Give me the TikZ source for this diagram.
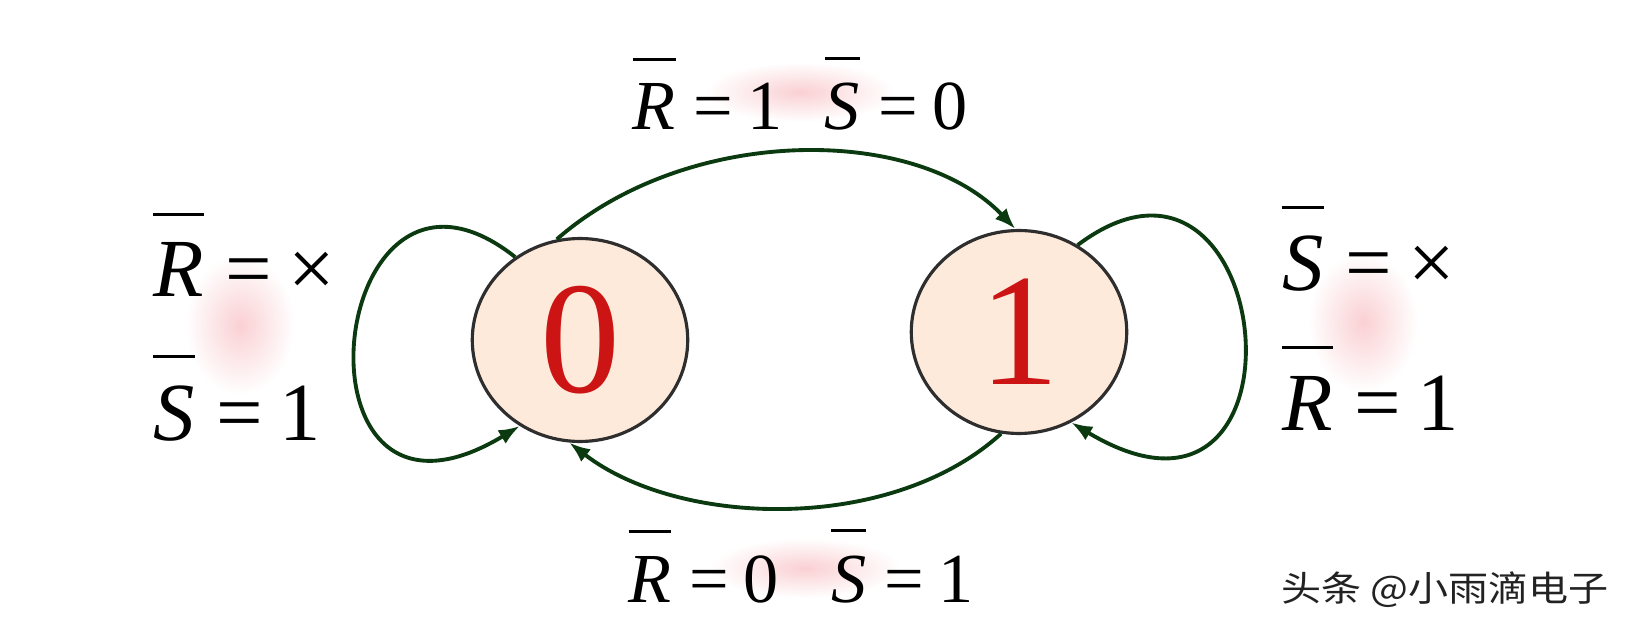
\documentclass[tikz,border=0pt]{standalone}
\usepackage{fontspec}
\setmainfont{Liberation Serif}
\newfontfamily\cjk{Noto Sans CJK SC}
\usepackage{xcolor}
\usepackage{graphicx}
\usetikzlibrary{arrows.meta, shapes.geometric}
\definecolor{state-fill}{HTML}{FDEADA}
\definecolor{state-line}{HTML}{2E2E2E}
\definecolor{digit-red}{HTML}{CC1414}
\definecolor{arc-green}{HTML}{0C3A10}
\definecolor{blush}{HTML}{FAD0D3}
\definecolor{mark-gray}{HTML}{222222}

% negated input: letter with a bar well above it
\newcommand{\nb}[1]{\leavevmode\vbox{\hrule height 1.8pt\kern0.33em\hbox{\textit{#1}}}}
\newcommand{\eqs}{\hspace{0.26em}=\hspace{0.2em}}

\begin{document}
\begin{tikzpicture}[x=0.02cm, y=-0.02cm,
      every node/.style={inner sep=0pt},
      state/.style={ellipse, draw=state-line, line width=1.8pt, fill=state-fill,
        minimum width=4.31cm, minimum height=4.06cm,
        text=digit-red, font=\fontsize{91}{91}\selectfont},
      trans/.style={draw=arc-green, line width=2.2pt,
        -{Latex[length=12pt, width=9pt]}},
      cond/.style={font=\fontsize{40}{42}\selectfont, anchor=base},
      side/.style={font=\fontsize{47}{50}\selectfont, anchor=base west}]
    \useasboundingbox[fill=white] (0,0) rectangle (1631,634);
    % faint pink glow behind the labels
    \shade[inner color=blush, outer color=white] (240,325) ellipse [x radius=55, y radius=70];
    \shade[inner color=blush, outer color=white] (1363,322) ellipse [x radius=55, y radius=70];
    \shade[inner color=blush, outer color=white] (800,92) ellipse [x radius=95, y radius=30];
    \shade[inner color=blush, outer color=white] (805,568) ellipse [x radius=95, y radius=30];

    \node[state] (zero) at (580,340) {0};
    \node[state] (one) at (1019,332) {1};

    \draw[trans] (zero.103) .. controls +(130,-114) and +(-100,-105) .. (one.92);
    \draw[trans] (one.260) .. controls +(-110,100) and +(110,85) .. (zero.264);
    \draw[trans] (zero.128) .. controls +(-190,-150) and +(-240,145) .. (zero.235);
    \draw[trans] (one.56) .. controls +(200,-150) and +(250,150) .. (one.300);

    \node[cond] (setcond) at (800,130) {\nb{R}\eqs 1\hspace{0.6em}\nb{S}\eqs 0};
    \node[cond] (resetcond) at (801,602) {\nb{R}\eqs 0\hspace{0.75em}\nb{S}\eqs 1};
    \node[side] (holdR) at (153,297) {\nb{R}\eqs ×};
    \node[side] (holdS) at (153,440) {\nb{S}\eqs 1};
    \node[side] (keepS) at (1282,291) {\nb{S}\eqs ×};
    \node[side] (keepR) at (1282,430) {\nb{R}\eqs 1};

    \node[anchor=base east, text=mark-gray, font=\cjk\fontsize{20}{21}\selectfont]
      (mark) at (1609,601) {\scalebox{1.14}[1]{头条 @小雨滴电子}};
  \end{tikzpicture}
\end{document}
